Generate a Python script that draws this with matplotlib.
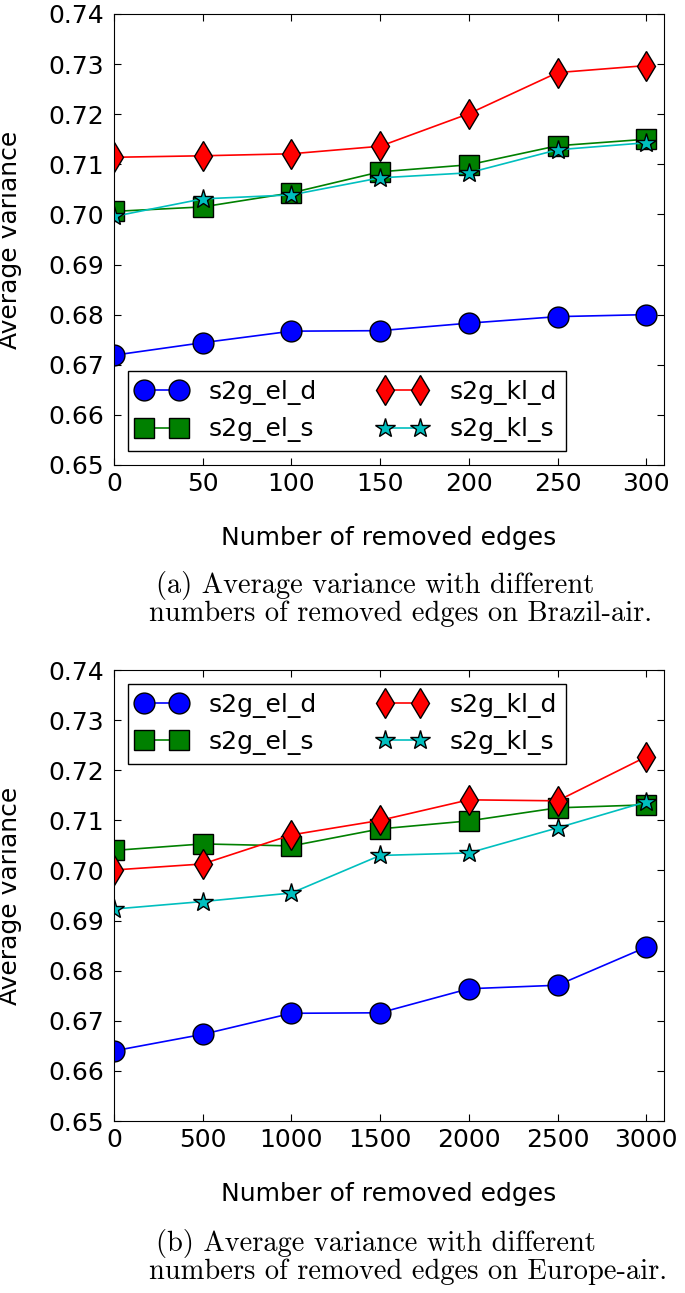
import matplotlib
matplotlib.use("Agg")
import matplotlib.pyplot as plt

# Brazil-air
edges_a = [0, 50, 100, 150, 200, 250, 300]
el_d_a = [0.6719, 0.6744, 0.6767, 0.6768, 0.6783, 0.6796, 0.6800]
el_s_a = [0.7006, 0.7015, 0.7043, 0.7085, 0.7099, 0.7137, 0.7150]
kl_d_a = [0.7114, 0.7117, 0.7121, 0.7136, 0.7201, 0.7283, 0.7297]
kl_s_a = [0.6996, 0.7031, 0.7039, 0.7073, 0.7083, 0.7129, 0.7143]

# Europe-air
edges_b = [0, 500, 1000, 1500, 2000, 2500, 3000]
el_d_b = [0.6640, 0.6673, 0.6715, 0.6716, 0.6764, 0.6771, 0.6847]
el_s_b = [0.7040, 0.7053, 0.7049, 0.7083, 0.7099, 0.7125, 0.7131]
kl_d_b = [0.7001, 0.7013, 0.7071, 0.7100, 0.7141, 0.7139, 0.7227]
kl_s_b = [0.6923, 0.6938, 0.6955, 0.7030, 0.7035, 0.7085, 0.7137]

yticks = [0.65, 0.66, 0.67, 0.68, 0.69, 0.70, 0.71, 0.72, 0.73, 0.74]
caption_a = ["(a) Average variance with different",
             "numbers of removed edges on Brazil-air."]
caption_b = ["(b) Average variance with different",
             "numbers of removed edges on Europe-air."]

fs = 18
fig = plt.figure(figsize=(6.85, 12.93), dpi=100)


def draw(ax, x, el_d, el_s, kl_d, kl_s, xmax, legend_loc):
    ax.plot(x, el_d, 'o-', color=(0, 0, 1), mec='k', ms=15, lw=1.2, label='s2g_el_d')
    ax.plot(x, el_s, 's-', color=(0, 0.5, 0), mec='k', ms=15, lw=1.2, label='s2g_el_s')
    ax.plot(x, kl_d, 'd-', color=(1, 0, 0), mec='k', ms=15, lw=1.2, label='s2g_kl_d')
    ax.plot(x, kl_s, '*-', color=(0, 0.75, 0.75), mec='k', ms=15, lw=1.2, label='s2g_kl_s')
    ax.set_xlim(0, xmax)
    ax.set_ylim(0.65, 0.74)
    ax.set_xticks(x)
    ax.set_yticks(yticks)
    ax.set_yticklabels(["%.2f" % v for v in yticks])
    ax.tick_params(direction='in', top=True, right=True, length=5, labelsize=fs)
    ax.tick_params(axis='x', pad=5)
    ax.tick_params(axis='y', pad=7)
    ax.set_xlabel("Number of removed edges", fontsize=fs)
    ax.set_ylabel("Average variance", fontsize=fs)
    ax.xaxis.set_label_coords(0.5, -0.135)
    ax.yaxis.set_label_coords(-0.168, 0.5)
    leg = ax.legend(loc=legend_loc, ncol=2, numpoints=2, fontsize=fs, fancybox=False,
                    framealpha=1, edgecolor='k', borderaxespad=0.55, borderpad=0.35,
                    handlelength=2.0, columnspacing=2.4, handletextpad=0.9)
    leg.get_frame().set_linewidth(1.0)


ax1 = fig.add_axes([0.1664, 0.6404, 0.803, 0.3488])
draw(ax1, edges_a, el_d_a, el_s_a, kl_d_a, kl_s_a, 310, 'lower left')

ax2 = fig.add_axes([0.1664, 0.1330, 0.803, 0.3488])
draw(ax2, edges_b, el_d_b, el_s_b, kl_d_b, kl_s_b, 3100, 'upper left')

cap_font = ['cmr10', 'DejaVu Serif']
cap_fs = 20.5
fig.text(156 / 685, 1 - 586 / 1293, caption_a[0], fontsize=cap_fs, family=cap_font, va='center')
fig.text(149 / 685, 1 - 614 / 1293, caption_a[1], fontsize=cap_fs, family=cap_font, va='center')
fig.text(156 / 685, 1 - 1244 / 1293, caption_b[0], fontsize=cap_fs, family=cap_font, va='center')
fig.text(149 / 685, 1 - 1272 / 1293, caption_b[1], fontsize=cap_fs, family=cap_font, va='center')

fig.savefig("out.png", dpi=100)
